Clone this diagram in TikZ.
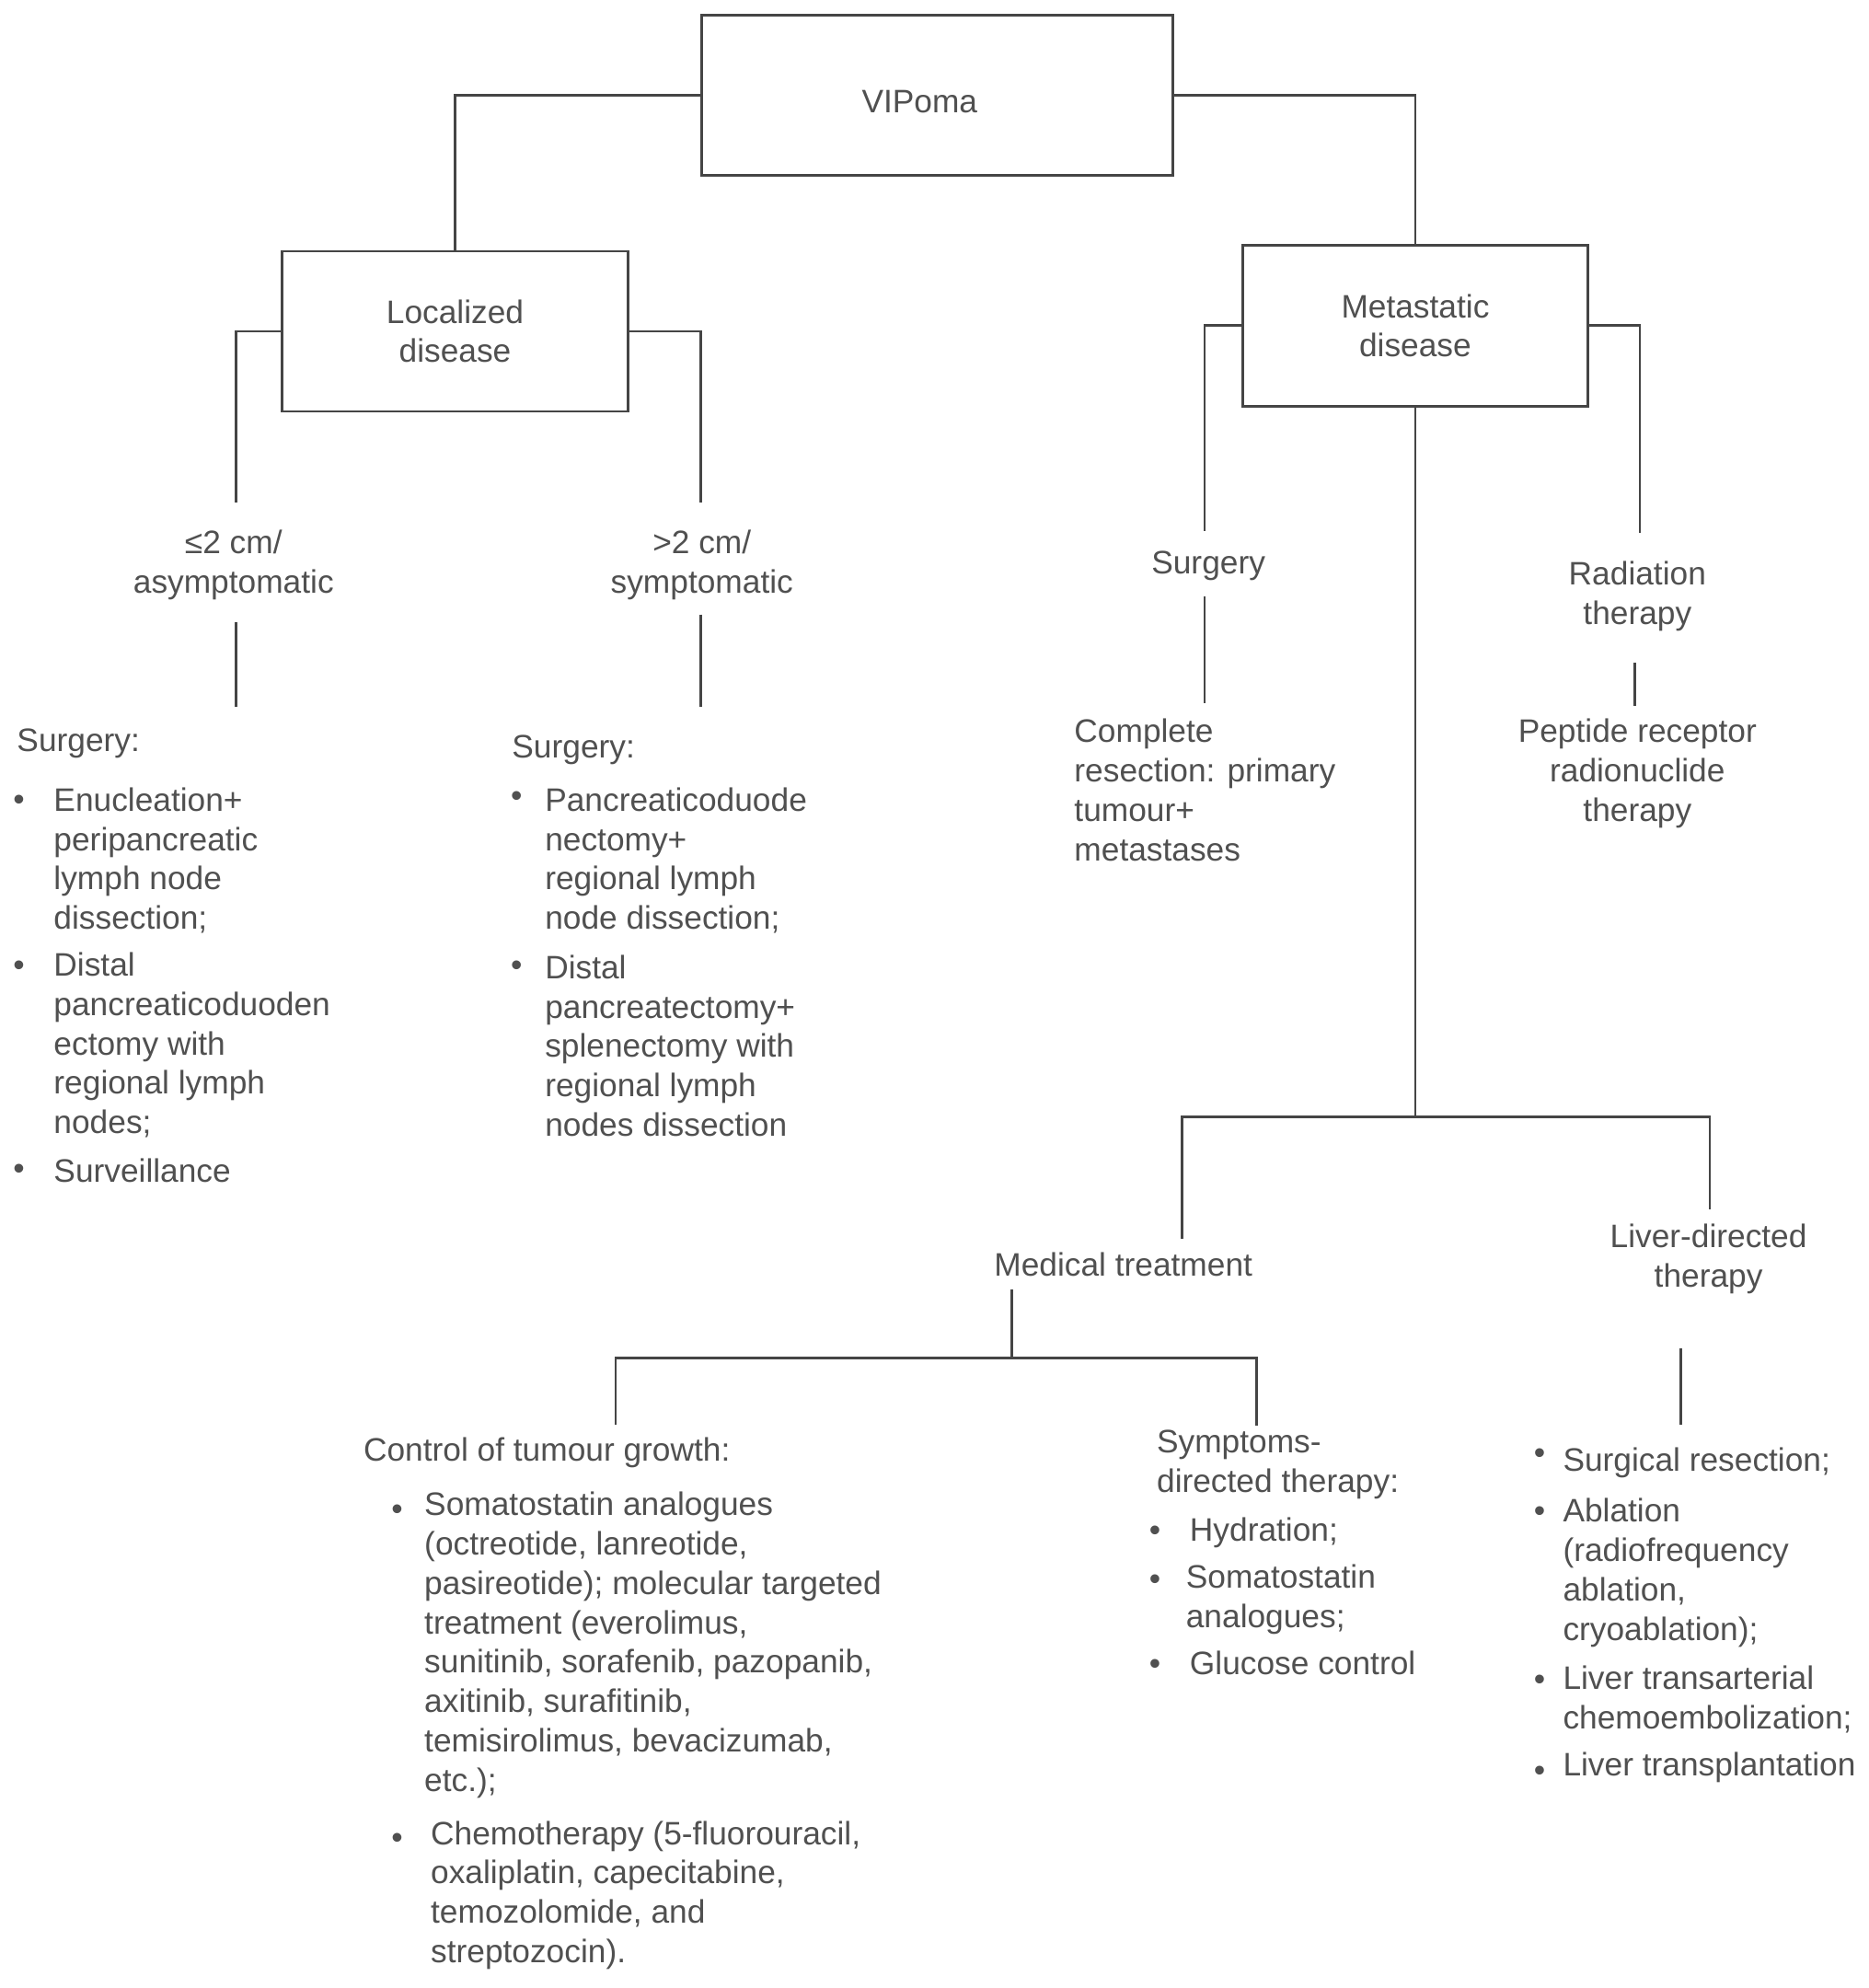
\documentclass[tikz,border=0pt]{standalone}
\usepackage{fontspec}
\setmainfont{Liberation Sans}
\definecolor{txtc}{HTML}{505050}
\definecolor{lnc}{HTML}{454545}
\newcommand\fsz{\fontsize{12.8pt}{15.5pt}\selectfont}
\begin{document}
\begin{tikzpicture}[x=0.5pt,y=-0.5pt,
  box/.style={draw=lnc, line width=1pt, inner sep=0pt, align=center, font=\fsz, text=txtc},
  lt/.style={inner sep=0pt, anchor=north west, align=left, font=\fsz, text=txtc, execute at begin node=\strut},
  ct/.style={inner sep=0pt, anchor=north, align=center, font=\fsz, text=txtc, execute at begin node=\strut},
  bul/.style={inner sep=0pt, anchor=north west, font=\fsz, text=txtc, execute at begin node=\strut},
  conn/.style={draw=lnc, line width=1pt}]
\fill[white] (0,0) rectangle (1472,1566);
\useasboundingbox (0,0) rectangle (1472,1566);

% boxes
\node[box, minimum width=185.5pt, minimum height=63pt] (vip) at (738.5,75) {\raisebox{-2.5pt}[\height][\depth]{VIPoma}\hspace{14pt}};
\node[box, minimum width=136.5pt, minimum height=63pt] (loc) at (358.5,261) {Localized\\disease};
\node[box, minimum width=136pt, minimum height=63.5pt] (met) at (1115,256.5) {Metastatic\\disease};

% centred labels
\node[ct] (le2) at (184,417) {≤2 cm/\\asymptomatic};
\node[ct] (gt2) at (553,417) {>2 cm/\\symptomatic};
\node[ct] (msurg) at (952,430) {Surgery};
\node[ct] (rad) at (1290,442) {Radiation\\therapy};
\node[ct] (prrt) at (1290,566) {Peptide receptor\\radionuclide\\therapy};
\node[ct] (med) at (885,983) {Medical treatment};
\node[ct] (liv) at (1346,964) {Liver-directed\\therapy};

% left surgery
\node[lt] (lsurg) at (13,570) {Surgery:};
\node[bul] (lb1) at (10,616) {\textbullet};
\node[lt] (li1) at (42,620) {Enucleation+\\peripancreatic\\lymph node\\dissection;};
\node[bul] (lb2) at (10,747) {\textbullet};
\node[lt] (li2) at (42,750) {Distal\\pancreaticoduoden\\ectomy with\\regional lymph\\nodes;};
\node[bul] (lb3) at (10,907) {\textbullet};
\node[lt] (li3) at (42,909) {Surveillance};

% right surgery
\node[lt] (rsurg) at (403,575) {Surgery:};
\node[bul] (rb1) at (402,613) {\textbullet};
\node[lt] (ri1) at (429,620) {Pancreaticoduode\\nectomy+\\regional lymph\\node dissection;};
\node[bul] (rb2) at (402,747) {\textbullet};
\node[lt] (ri2) at (429,752) {Distal\\pancreatectomy+\\splenectomy with\\regional lymph\\nodes dissection};

% complete resection
\node[lt] (cres) at (846,566) {Complete\\resection: primary\\tumour+\\metastases};

% control of tumour growth
\node[lt] (ctg) at (286,1129) {Control of tumour growth:};
\node[bul] (cb1) at (308,1175) {\textbullet};
\node[lt] (ci1) at (334,1175) {Somatostatin analogues\\(octreotide, lanreotide,\\pasireotide); molecular targeted\\treatment (everolimus,\\sunitinib, sorafenib, pazopanib,\\axitinib, surafitinib,\\temisirolimus, bevacizumab,\\etc.);};
\node[bul] (cb2) at (308,1434) {\textbullet};
\node[lt] (ci2) at (339,1434) {Chemotherapy (5-fluorouracil,\\oxaliplatin, capecitabine,\\temozolomide, and\\streptozocin).};

% symptoms
\node[lt] (sym) at (911,1126) {Symptoms-\\directed therapy:};
\node[bul] (sb1) at (905,1192) {\textbullet};
\node[lt] (si1) at (937,1192) {Hydration;};
\node[bul] (sb2) at (905,1230) {\textbullet};
\node[lt] (si2) at (934,1232) {Somatostatin\\analogues;};
\node[bul] (sb3) at (905,1297) {\textbullet};
\node[lt] (si3) at (937,1297) {Glucose control};

% liver
\node[bul] (vb1) at (1208,1131) {\textbullet};
\node[lt] (vi1) at (1231,1137) {Surgical resection;};
\node[bul] (vb2) at (1208,1177) {\textbullet};
\node[lt] (vi2) at (1231,1180) {Ablation\\(radiofrequency\\ablation,\\cryoablation);};
\node[bul] (vb3) at (1208,1309) {\textbullet};
\node[lt] (vi3) at (1231,1312) {Liver transarterial\\chemoembolization;};
\node[bul] (vb4) at (1208,1381) {\textbullet};
\node[lt] (vi4) at (1231,1377) {Liver transplantation};

% coordinates for free ends
\coordinate (l1) at (186,396);
\coordinate (l2) at (552,396);
\coordinate (l3a) at (186,490);
\coordinate (l3b) at (186,557);
\coordinate (l4a) at (552,484);
\coordinate (l4b) at (552,557);
\coordinate (m1) at (949,418);
\coordinate (m2a) at (949,470);
\coordinate (m2b) at (949,554);
\coordinate (m3) at (1292,420);
\coordinate (m4a) at (1288,522);
\coordinate (m4b) at (1288,556);
\coordinate (hub) at (1115,880);
\coordinate (mtop) at (931,976);
\coordinate (ldtop) at (1347,953);
\coordinate (md1) at (797,1016);
\coordinate (md2) at (797,1070);
\coordinate (cgt) at (485,1122);
\coordinate (sdt) at (990,1123);
\coordinate (lv1) at (1324,1062);
\coordinate (lv2) at (1324,1122);

% connectors
\draw[conn] (vip.west) -| (loc.north);
\draw[conn] (vip.east) -| (met.north);
\draw[conn] (loc.west) -| (l1);
\draw[conn] (loc.east) -| (l2);
\draw[conn] (l3a) -- (l3b);
\draw[conn] (l4a) -- (l4b);
\draw[conn] (met.west) -| (m1);
\draw[conn] (m2a) -- (m2b);
\draw[conn] (met.east) -| (m3);
\draw[conn] (m4a) -- (m4b);
\draw[conn] (met.south) -- (hub);
\draw[conn] (mtop) |- (hub) -| (ldtop);
\draw[conn] (md1) -- (md2);
\draw[conn] (cgt) |- (md2) -| (sdt);
\draw[conn] (lv1) -- (lv2);
\end{tikzpicture}
\end{document}
